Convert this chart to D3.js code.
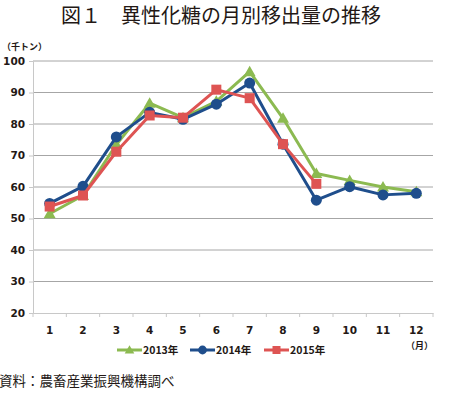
<!DOCTYPE html>
<html>
<head>
<meta charset="utf-8">
<script src="https://cdn.jsdelivr.net/npm/d3@7"></script>
<style>
  body { margin: 0; background: #fff; }
  text { font-family: "Noto Sans CJK JP", "Noto Sans", sans-serif; fill: #231815; }
</style>
</head>
<body>
<script>
const months = [1, 2, 3, 4, 5, 6, 7, 8, 9, 10, 11, 12]
const yTicks = [20, 30, 40, 50, 60, 70, 80, 90, 100]
const v2013 = [51.5, 57.3, 73.5, 86.6, 82.0, 87.2, 96.6, 81.8, 64.3, 62.1, 60.0, 58.5]
const v2014 = [54.8, 60.2, 75.9, 83.7, 81.5, 86.3, 93.0, 73.6, 55.8, 60.1, 57.5, 58.0]
const v2015 = [53.8, 57.3, 71.2, 82.7, 82.0, 90.9, 88.2, 73.6, 61.0]

const w = 450
const h = 393

const svg = d3.select('body')
     .append('svg')
     .attr('width', w)
     .attr('height', h)

const xScale = d3.scaleBand()
     .domain(months)
     .range([33, 433])
const yScale = d3.scaleLinear()
     .domain([20, 100])
     .range([313, 61])

// title
svg.append('text')
     .attr('x', 221)
     .attr('y', 23)
     .attr('text-anchor', 'middle')
     .style('font-size', '20px')
     .style('font-weight', 400)
     .text('図１　異性化糖の月別移出量の推移')

svg.append('text')
     .attr('x', 2)
     .attr('y', 50)
     .style('font-size', '9px')
     .style('font-weight', 700)
     .text('（千トン）')

// gridlines
svg.append('g')
     .selectAll('line')
     .data(yTicks.slice(1))
     .enter()
     .append('line')
     .attr('x1', 33)
     .attr('x2', 433)
     .attr('y1', d => yScale(d))
     .attr('y2', d => yScale(d))
     .attr('stroke', '#a6a6a6')
     .attr('stroke-width', 1)

// y axis
const yAxis = d3.axisLeft(yScale).tickValues(yTicks).tickSize(4).tickPadding(4)
const gy = svg.append('g')
     .attr('transform', 'translate(33,0)')
     .call(yAxis)
gy.select('.domain').attr('stroke', '#c8c8c8')
gy.selectAll('.tick line').attr('stroke', '#c8c8c8')
gy.selectAll('.tick text')
     .style('font-size', '10.5px')
     .style('font-weight', 700)
     .style('font-family', '"DejaVu Sans", sans-serif')
     .attr('fill', '#231815')

// x axis
const xAxis = d3.axisBottom(xScale).tickSize(0).tickPadding(14)
const gx = svg.append('g')
     .attr('transform', 'translate(0,313)')
     .call(xAxis)
gx.select('.domain').attr('stroke', '#c8c8c8')
gx.selectAll('.tick text')
     .style('font-size', '10.5px')
     .style('font-weight', 700)
     .style('font-family', '"DejaVu Sans", sans-serif')
     .attr('fill', '#231815')
svg.append('g')
     .selectAll('line')
     .data(months.concat([13]))
     .enter()
     .append('line')
     .attr('x1', d => 33 + (d - 1) * xScale.step())
     .attr('x2', d => 33 + (d - 1) * xScale.step())
     .attr('y1', 313)
     .attr('y2', 317)
     .attr('stroke', '#c8c8c8')

svg.append('text')
     .attr('x', 433)
     .attr('y', 349)
     .attr('text-anchor', 'end')
     .style('font-size', '9px')
     .style('font-weight', 700)
     .text('（月）')

const cx = (d, i) => xScale(months[i]) + xScale.bandwidth() / 2
const line = d3.line().x(cx).y(d => yScale(d))

const series = [
     { name: '2013年', values: v2013, color: '#8cba51', marker: 'triangle' },
     { name: '2014年', values: v2014, color: '#1f4e8c', marker: 'circle' },
     { name: '2015年', values: v2015, color: '#de5453', marker: 'square' }
]

function drawMarker(g, type, color) {
     if (type === 'circle') {
          g.append('circle').attr('r', 5.5).attr('fill', color)
     } else if (type === 'square') {
          g.append('rect').attr('x', -5).attr('y', -5).attr('width', 10).attr('height', 10).attr('fill', color)
     } else {
          g.append('path').attr('d', 'M0,-6L6,4.5L-6,4.5Z').attr('fill', color)
     }
}

series.forEach(s => {
     svg.append('path')
          .datum(s.values)
          .attr('d', line)
          .attr('fill', 'none')
          .attr('stroke', s.color)
          .attr('stroke-width', 3)
          .attr('stroke-linejoin', 'round')
     s.values.forEach((v, i) => {
          const g = svg.append('g').attr('transform', 'translate(' + cx(v, i) + ',' + yScale(v) + ')')
          drawMarker(g, s.marker, s.color)
     })
})

// legend
const legendX = [117, 190, 264]
series.forEach((s, i) => {
     const g = svg.append('g').attr('transform', 'translate(' + legendX[i] + ',350)')
     g.append('line')
          .attr('x1', 0).attr('x2', 25)
          .attr('stroke', s.color)
          .attr('stroke-width', 3)
     const m = g.append('g').attr('transform', 'translate(12.5,0) scale(0.8)')
     drawMarker(m, s.marker, s.color)
     g.append('text')
          .attr('x', 26)
          .attr('y', 4)
          .style('font-size', '10.5px')
          .style('font-weight', 700)
          .text(s.name)
})

svg.append('text')
     .attr('x', -1)
     .attr('y', 386)
     .style('font-size', '13.5px')
     .text('資料：農畜産業振興機構調べ')
</script>
</body>
</html>
